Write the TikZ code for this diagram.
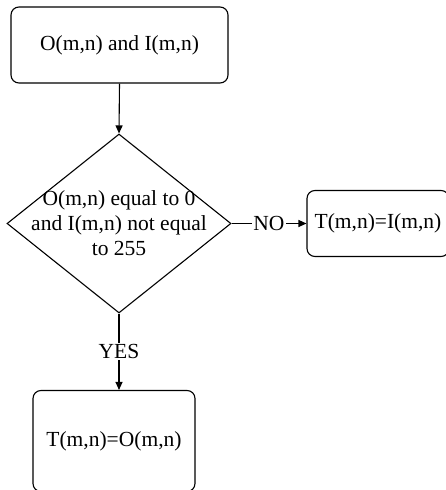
\documentclass[tikz,border=0pt]{standalone}
\usepackage{fontspec}
\setmainfont{Liberation Serif}
\usetikzlibrary{arrows.meta,shapes.geometric}
\tikzset{
  box/.style={draw,rounded corners=8pt,line width=1.1pt,inner sep=0pt},
  decision/.style={draw,diamond,line width=1.1pt,inner sep=0pt},
  flow/.style={-{Triangle[length=8pt,width=7pt]},line width=1.1pt},
  lbl/.style={fill=white,inner sep=1.5pt}
}
\begin{document}
\begin{tikzpicture}[x=1pt,y=1pt,font=\fontsize{21.5}{25}\selectfont]
    \useasboundingbox (0,0) rectangle (446,490);
    \node[box,minimum width=217pt,minimum height=76pt] (inp) at (119.5,445) {O(m,n) and I(m,n)};
    \node[decision,minimum width=224pt,minimum height=179pt] (dec) at (119,266.5) {};
    \node[align=center] (dectext) at (dec.center) {O(m,n) equal to 0\\and I(m,n) not equal\\to 255};
    \node[box,minimum width=142pt,minimum height=66pt] (tno) at (378,266.5) {T(m,n)=I(m,n)};
    \node[box,minimum width=162pt,minimum height=101pt] (tyes) at (114,49) {T(m,n)=O(m,n)};
    \draw[flow] (inp.south) -- (dec.north);
    \draw[flow] (dec.east) -- node[lbl]{NO} (tno.west);
    \draw[flow] (dec.south) -- node[lbl]{YES} (dec.south |- tyes.north);
  \end{tikzpicture}
\end{document}
